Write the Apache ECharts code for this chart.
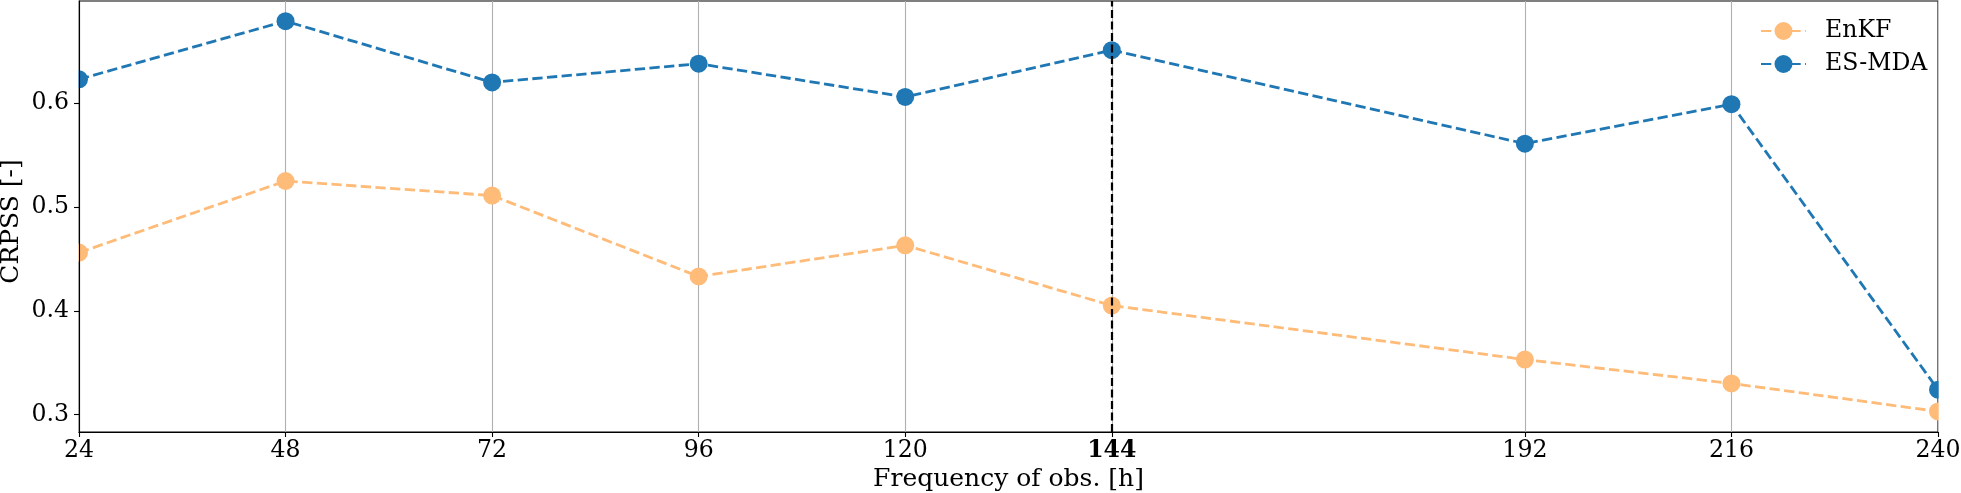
<!DOCTYPE html>
<html>
<head>
<meta charset="utf-8">
<script src="https://cdn.jsdelivr.net/npm/echarts@6/dist/echarts.min.js"></script>
<style>
html,body{margin:0;padding:0;background:#fff;}
#chart{width:1961px;height:493px;}
</style>
</head>
<body>
<div id="chart"></div>
<script>
const frequencies = [24, 48, 72, 96, 120, 144, 192, 216, 240];
const enkf = [0.456, 0.525, 0.511, 0.433, 0.463, 0.405, 0.353, 0.330, 0.303];
const esmda = [0.623, 0.679, 0.620, 0.638, 0.606, 0.651, 0.561, 0.599, 0.324];
const xTicks = [24, 48, 72, 96, 120, 144, 192, 216, 240];
const yTicks = [0.3, 0.4, 0.5, 0.6];
const highlightX = 144;

const FONT = 'DejaVu Serif';
const FS = 23.6;
const NAME_FS = 25;
const W = 1961, H = 493;
const G = { left: 79, right: 23, top: 1, bottom: 61 };
const chart = echarts.init(document.getElementById('chart'));
const pairs = arr => frequencies.map((f, i) => [f, arr[i]]);

chart.setOption({
  animation: false,
  backgroundColor: '#fff',
  textStyle: { fontFamily: FONT },
  grid: { left: G.left, right: G.right, top: G.top, bottom: G.bottom, show: true, borderColor: '#000', borderWidth: 1.1, containLabel: false, outerBoundsMode: 'none' },
  legend: {
    orient: 'vertical',
    left: 1760, top: 19,
    padding: 0,
    itemWidth: 45, itemHeight: 22.5, itemGap: 9,
    textStyle: { fontFamily: FONT, fontSize: FS, lineHeight: 24, color: '#000', padding: [0, 0, 0, 14] },
    data: ['EnKF', 'ES-MDA']
  },
  // masks that clip the half of the edge markers lying outside the plot frame
  graphic: [
    { type: 'rect', z: 5, silent: true, shape: { x: G.left - 10, y: 0, width: 9.4, height: H - G.bottom }, style: { fill: '#fff' } },
    { type: 'rect', z: 5, silent: true, shape: { x: W - G.right + 0.7, y: 0, width: G.right, height: H - G.bottom }, style: { fill: '#fff' } }
  ],
  xAxis: {
    type: 'value', min: 24, max: 240,
    name: 'Frequency of obs. [h]', nameLocation: 'middle', nameGap: 35, nameMoveOverlap: false,
    nameTextStyle: { fontFamily: FONT, fontSize: NAME_FS, color: '#000' },
    axisLine: { lineStyle: { color: '#000', width: 1.1 } },
    axisTick: { show: true, length: 5, inside: false, customValues: xTicks, lineStyle: { color: '#000', width: 1.1 } },
    axisLabel: {
      customValues: xTicks, margin: 7, fontFamily: FONT, fontSize: FS, color: '#000',
      formatter: v => v === highlightX ? '{b|' + v + '}' : String(v),
      rich: { b: { fontFamily: FONT, fontSize: FS, fontWeight: 'bold', color: '#000' } }
    },
    splitLine: { show: true, lineStyle: { color: '#b0b0b0', width: 1.1 } }
  },
  yAxis: {
    type: 'value', min: 0.2832, max: 0.6984, z: 10,
    name: 'CRPSS [-]', nameLocation: 'middle', nameGap: 55, nameMoveOverlap: false,
    nameTextStyle: { fontFamily: FONT, fontSize: NAME_FS, color: '#000', padding: [0, 10, 0, 0] },
    axisLine: { show: true, lineStyle: { color: '#000', width: 1.1 } },
    axisTick: { show: true, length: 5, customValues: yTicks, lineStyle: { color: '#000', width: 1.1 } },
    axisLabel: { customValues: yTicks, margin: 10, fontFamily: FONT, fontSize: FS, color: '#000', formatter: v => v.toFixed(1) },
    splitLine: { show: false }
  },
  series: [
    {
      name: 'EnKF', type: 'line', data: pairs(enkf),
      symbol: 'circle', symbolSize: 18,
      itemStyle: { color: '#ffbb78' },
      lineStyle: { color: '#ffbb78', width: 2.8, type: [10.3, 4.4] },
      z: 3,
      markLine: {
        silent: true, symbol: 'none', animation: false,
        label: { show: false },
        lineStyle: { color: '#000', width: 2.2, type: [8, 3.5], opacity: 1 },
        emphasis: { disabled: true },
        data: [{ xAxis: highlightX }]
      }
    },
    {
      name: 'ES-MDA', type: 'line', data: pairs(esmda),
      symbol: 'circle', symbolSize: 18,
      itemStyle: { color: '#1f77b4' },
      lineStyle: { color: '#1f77b4', width: 2.8, type: [10.3, 4.4] },
      z: 4
    }
  ]
});
</script>
</body>
</html>
